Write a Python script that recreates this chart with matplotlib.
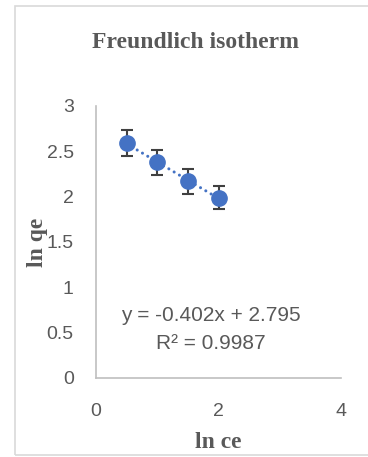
import numpy as np
import matplotlib.pyplot as plt
from matplotlib.patches import Rectangle

ln_ce = [0.5, 1.0, 1.5, 2.0]
ln_qe = [2.59, 2.38, 2.17, 1.99]
err = [0.14, 0.14, 0.14, 0.13]
xticks = [0, 2, 4]
yticks = [0, 0.5, 1, 1.5, 2, 2.5, 3]
ytick_labels = ['0', '0.5', '1', '1.5', '2', '2.5', '3']

grey = '#595959'
blue = '#4472C4'

fig = plt.figure(figsize=(3.68, 4.57), dpi=100)
fig.patches.append(Rectangle((15/368, 2/457), 1.0, 449/457, transform=fig.transFigure,
                             fill=False, edgecolor='#D9D9D9', lw=1.2))
ax = fig.add_axes([96/368, 1 - 378/457, 245/368, 272/457])

# linear fit (trendline)
slope, icpt = np.polyfit(ln_ce, ln_qe, 1)
xf = np.array([ln_ce[0], ln_ce[-1]])
ax.plot(xf, slope*xf + icpt, ls=(0, (0.01, 2.0)), color=blue, lw=2.2,
        dash_capstyle='round', zorder=2)

ax.errorbar(ln_ce, ln_qe, yerr=err, fmt='o', ms=11, color=blue, ecolor='#404040',
            elinewidth=1.5, capsize=4.5, capthick=1.5, zorder=3)

ax.set_xlim(0, 4)
ax.set_ylim(0, 3)
ax.set_xticks(xticks)
ax.set_yticks(yticks)
ax.set_yticklabels(ytick_labels)
ax.tick_params(length=0, labelsize=14, labelcolor=grey, labelfontfamily='Liberation Sans')
ax.tick_params(axis='x', pad=18)
ax.tick_params(axis='y', pad=16)
for s in ['top', 'right']:
    ax.spines[s].set_visible(False)
for s in ['left', 'bottom']:
    ax.spines[s].set_color('#BFBFBF')
    ax.spines[s].set_linewidth(1.2)

ax.set_xlabel('ln ce', family='Liberation Serif', weight='bold', fontsize=17, color=grey)
ax.xaxis.set_label_coords(0.5, (378 - 442) / 272)
ax.xaxis.label.set_va('center')
ax.set_ylabel('ln qe', family='Liberation Serif', weight='bold', fontsize=17, color=grey)
ax.yaxis.set_label_coords((38 - 96) / 245, 0.5)
ax.yaxis.label.set_va('center')
fig.text(195/368, 1 - 42/457, 'Freundlich isotherm', family='Liberation Serif', weight='bold',
         fontsize=17, color=grey, ha='center', va='center')

ax.text(1.88, 0.69, 'y = -0.402x + 2.795', ha='center', va='center', fontsize=15,
        color=grey, family='Liberation Sans')
ax.text(1.88, 0.38, 'R² = 0.9987', ha='center', va='center', fontsize=15,
        color=grey, family='Liberation Sans')

fig.savefig('out.png', dpi=100)
